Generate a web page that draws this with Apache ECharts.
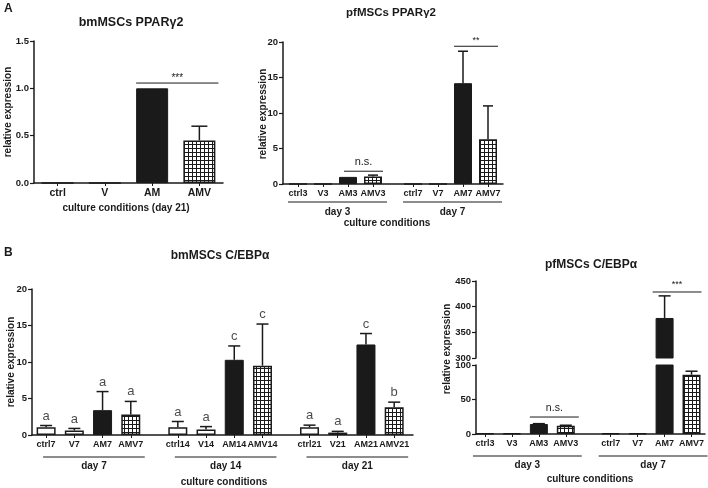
<!DOCTYPE html>
<html><head><meta charset="utf-8">
<script src="https://cdn.jsdelivr.net/npm/echarts@6/dist/echarts.min.js"></script>
<style>html,body{margin:0;padding:0;background:#fff}#c{width:708px;height:488px}</style>
</head><body><div id="c"></div>
<script>
// ---------------- DATA ----------------
// A left: bmMSCs PPARγ2, day 21
const aLeftCats = ['ctrl', 'V', 'AM', 'AMV'];
const aLeftMean = [0, 0, 1.0, 0.45];
const aLeftSD   = [0, 0, 0, 0.15];

// A right: pfMSCs PPARγ2
const aRightGroups = ['day 3', 'day 7'];
const aRightCats = [['ctrl3', 'V3', 'AM3', 'AMV3'], ['ctrl7', 'V7', 'AM7', 'AMV7']];
const aRightMean = [0, 0, 1.0, 1.05, 0, 0, 14.2, 6.3];
const aRightSD   = [0, 0, 0, 0.2, 0, 0, 4.5, 4.7];

// B left: bmMSCs C/EBPα
const bLeftGroups = ['day 7', 'day 14', 'day 21'];
const bLeftCats = [['ctrl7', 'V7', 'AM7', 'AMV7'], ['ctrl14', 'V14', 'AM14', 'AMV14'], ['ctrl21', 'V21', 'AM21', 'AMV21']];
const bLeftMean = [1.05, 0.62, 3.4, 2.8, 1.05, 0.75, 10.3, 9.5, 1.05, 0.33, 12.4, 3.8];
const bLeftSD   = [0.25, 0.28, 2.55, 1.8, 0.8, 0.4, 1.9, 5.7, 0.3, 0.17, 1.5, 0.7];
const bLeftLetters = ['a', 'a', 'a', 'a', 'a', 'a', 'c', 'c', 'a', 'a', 'c', 'b'];

// B right: pfMSCs C/EBPα (broken axis 0-100 / 300-450)
const bRightGroups = ['day 3', 'day 7'];
const bRightCats = [['ctrl3', 'V3', 'AM3', 'AMV3'], ['ctrl7', 'V7', 'AM7', 'AMV7']];
const bRightMean = [1, 1, 14.5, 11.8, 1, 1, 378, 86];
const bRightSD   = [0, 0, 0.5, 0.9, 0, 0, 43, 5];

const aLeftTicks = [0, 1.5, 0.5];
const aRightTicks = [0, 20, 5];
const bLeftTicks = [0, 20, 5];
const bRightTopTicks = [300, 450, 50];
const bRightBottomTicks = [0, 100, 50];

// ---------------- STYLE ----------------
const FONT = "'Liberation Sans', Arial, sans-serif";
const INK = '#1a1a1a';

function hatchCanvas() {
  const c = document.createElement('canvas'); c.width = 4; c.height = 4;
  const g = c.getContext('2d');
  g.fillStyle = '#fff'; g.fillRect(0, 0, 4, 4);
  g.fillStyle = INK; g.fillRect(0, 0, 4, 1); g.fillRect(0, 0, 1, 4);
  return c;
}
const HATCH = { image: hatchCanvas(), repeat: 'repeat' };

function styleFor(name) {
  if (name.startsWith('AMV')) return { color: HATCH, borderColor: INK, borderWidth: 1.5 };
  if (name.startsWith('AM')) return { color: INK, borderColor: INK, borderWidth: 1 };
  return { color: '#fff', borderColor: INK, borderWidth: 1.5 };
}

// category axis with blank slots, so groups can be spaced apart
function slotAxis(groups, lead, step, gap, tail) {
  const data = [], pos = {};
  let k = 0;
  const blank = () => data.push('_' + (k++));
  for (let i = 0; i < lead; i++) blank();
  groups.forEach((g, gi) => {
    g.forEach((name, i) => {
      pos[name] = data.length; data.push(name); k++;
      if (i < g.length - 1) for (let j = 1; j < step; j++) blank();
    });
    if (gi < groups.length - 1) for (let j = 1; j < gap; j++) blank();
  });
  for (let i = 0; i < tail; i++) blank();
  return { data, pos };
}
function plainAxis(names) { const pos = {}; names.forEach((n, i) => pos[n] = i); return { data: names.slice(), pos }; }

const axA1 = plainAxis(aLeftCats);
const axA2 = slotAxis(aRightCats, 3, 5, 8, 3);
const axB1 = slotAxis(bLeftCats, 3, 6, 10, 4);
const axB2 = slotAxis(bRightCats, 2, 6, 10, 3);

function xAxisCfg(grid, ax, boundaryGap, fontSize, show) {
  return {
    type: 'category', gridIndex: grid, data: ax.data, boundaryGap, show: show !== false,
    axisLine: { show: true, lineStyle: { color: INK, width: 1.5 } },
    axisTick: { show: true, length: 3, alignWithLabel: true, interval: (i, v) => !String(v).startsWith('_'), lineStyle: { color: INK, width: 1 } },
    axisLabel: { interval: (i, v) => !String(v).startsWith('_'), formatter: v => String(v).startsWith('_') ? '' : v,
      margin: 5, fontFamily: FONT, fontWeight: 'bold', fontSize, color: INK },
    splitLine: { show: false }
  };
}
function yAxisCfg(grid, t, fmt) {
  return {
    type: 'value', gridIndex: grid, min: t[0], max: t[1], interval: t[2],
    axisLine: { show: true, lineStyle: { color: INK, width: 1.5 } },
    axisTick: { show: true, length: 4, lineStyle: { color: INK, width: 1.2 } },
    axisLabel: { margin: 5, fontFamily: FONT, fontWeight: 'bold', fontSize: 9.5, color: INK, formatter: fmt },
    splitLine: { show: false }
  };
}

const flat = a => [].concat(...a);
function barSeries(grid, names, means, ax, width) {
  return { type: 'bar', xAxisIndex: grid, yAxisIndex: grid, barWidth: width, clip: true, z: 2,
    data: names.map((n, i) => ({ value: [ax.pos[n], means[i]], itemStyle: styleFor(n) })) };
}
function errSeries(grid, names, means, sds, ax, cap, range) {
  return { type: 'custom', xAxisIndex: grid, yAxisIndex: grid, clip: true, z: 3, silent: true,
    data: names.map((n, i) => [ax.pos[n], means[i], means[i] + sds[i], sds[i]]),
    renderItem(params, api) {
      const sd = api.value(3), m = api.value(1), top = api.value(2);
      if (!(sd > 0) || m < range[0] || top > range[1]) return null;
      const p0 = api.coord([api.value(0), m]);
      const p1 = api.coord([api.value(0), top]);
      return { type: 'group', children: [
        { type: 'line', shape: { x1: p0[0], y1: p0[1], x2: p1[0], y2: p1[1] }, style: { stroke: INK, lineWidth: 1.5 } },
        { type: 'line', shape: { x1: p1[0] - cap, y1: p1[1], x2: p1[0] + cap, y2: p1[1] }, style: { stroke: INK, lineWidth: 1.5 } }
      ] };
    } };
}

const aRightNames = flat(aRightCats), bLeftNames = flat(bLeftCats), bRightNames = flat(bRightCats);

const chart = echarts.init(document.getElementById('c'), null, { renderer: 'canvas' });
chart.setOption({
  animation: false,
  backgroundColor: '#fff',
  grid: [
    { left: 34, right: 485, top: 41, bottom: 305 },
    { left: 283, right: 205, top: 42, bottom: 304 },
    { left: 32, right: 295, top: 289, bottom: 53 },
    { left: 476, right: 3, top: 281, bottom: 130 },
    { left: 476, right: 3, top: 365, bottom: 54 }
  ],
  xAxis: [
    xAxisCfg(0, axA1, true, 10.5),
    xAxisCfg(1, axA2, false, 9),
    xAxisCfg(2, axB1, false, 9),
    xAxisCfg(3, axB2, false, 9, false),
    xAxisCfg(4, axB2, false, 9)
  ],
  yAxis: [
    yAxisCfg(0, aLeftTicks, v => v.toFixed(1)),
    yAxisCfg(1, aRightTicks),
    yAxisCfg(2, bLeftTicks),
    yAxisCfg(3, bRightTopTicks),
    yAxisCfg(4, bRightBottomTicks)
  ],
  series: [
    barSeries(0, aLeftCats, aLeftMean, axA1, 32),
    errSeries(0, aLeftCats, aLeftMean, aLeftSD, axA1, 8, [0, 1.5]),
    barSeries(1, aRightNames, aRightMean, axA2, 18),
    errSeries(1, aRightNames, aRightMean, aRightSD, axA2, 5, [0, 20]),
    barSeries(2, bLeftNames, bLeftMean, axB1, 19),
    errSeries(2, bLeftNames, bLeftMean, bLeftSD, axB1, 6, [0, 20]),
    { type: 'scatter', xAxisIndex: 2, yAxisIndex: 2, symbol: 'circle', symbolSize: 0, silent: true, z: 4,
      data: bLeftNames.map((n, i) => [axB1.pos[n], bLeftMean[i] + bLeftSD[i]]),
      label: { show: true, position: 'top', distance: 3, formatter: p => bLeftLetters[p.dataIndex],
        fontFamily: FONT, fontSize: 13, color: INK } },
    barSeries(3, bRightNames, bRightMean, axB2, 18),
    errSeries(3, bRightNames, bRightMean, bRightSD, axB2, 6, [300, 450]),
    barSeries(4, bRightNames, bRightMean, axB2, 18),
    errSeries(4, bRightNames, bRightMean, bRightSD, axB2, 6, [0, 100])
  ]
});

// ---------------- ANNOTATIONS ----------------
const px = (g, x, y) => chart.convertToPixel({ gridIndex: g }, [x, y]);
const G = [];
function txt(text, x, y, size, weight, align, rot) {
  G.push({ type: 'text', x, y, rotation: rot || 0, silent: true, z: 10,
    style: { text, fill: INK, font: (weight || 'normal') + ' ' + size + 'px ' + FONT, align: align || 'center', verticalAlign: 'middle' } });
}
function hline(x1, x2, y, w) {
  G.push({ type: 'line', silent: true, z: 10, shape: { x1, y1: y, x2, y2: y }, style: { stroke: INK, lineWidth: w || 1 } });
}
function sig(g, a, b, value, dl, dr, label, size, dy) {
  const p1 = px(g, a, value), p2 = px(g, b, value);
  hline(p1[0] + dl, p2[0] + dr, p1[1], 1);
  txt(label, (p1[0] + dl + p2[0] + dr) / 2, p1[1] + dy, size, 'normal');
}
function groups(g, ax, cats, labels, dl, dr, dyLine, dyText) {
  cats.forEach((grp, i) => {
    const a = px(g, ax.pos[grp[0]], 0), b = px(g, ax.pos[grp[grp.length - 1]], 0);
    hline(a[0] + dl, b[0] + dr, a[1] + dyLine, 1);
    txt(labels[i], (a[0] + dl + b[0] + dr) / 2, a[1] + dyText, 10, 'bold');
  });
}

// panel letters and titles
txt('A', 4, 9, 12, 'bold', 'left');
txt('B', 4, 253, 12, 'bold', 'left');
txt('bmMSCs PPARγ2', 131, 23, 12.5, 'bold');
txt('pfMSCs PPARγ2', 391, 13, 11.5, 'bold');
txt('bmMSCs C/EBPα', 220, 256, 12, 'bold');
txt('pfMSCs C/EBPα', 591, 265, 12, 'bold');

// y-axis titles
txt('relative expression', 8, 112, 10, 'bold', 'center', Math.PI / 2);
txt('relative expression', 263, 114, 10, 'bold', 'center', Math.PI / 2);
txt('relative expression', 11, 362, 10, 'bold', 'center', Math.PI / 2);
txt('relative expression', 447, 349, 10, 'bold', 'center', Math.PI / 2);

// x-axis titles
txt('culture conditions (day 21)', 126, 208, 10, 'bold');
txt('culture conditions', 387, 223, 10, 'bold');
txt('culture conditions', 224, 482, 10, 'bold');
txt('culture conditions', 590, 479, 10, 'bold');

// significance
sig(0, axA1.pos['AM'], axA1.pos['AMV'], 1.056, -16, 19, '***', 10, -5);
sig(1, axA2.pos['AM7'], axA2.pos['AMV7'], 19.4, -9, 10, '**', 9, -6);
sig(1, axA2.pos['AM3'], axA2.pos['AMV3'], 1.8, -4, 10, 'n.s.', 11, -9);
sig(3, axB2.pos['AM7'], axB2.pos['AMV7'], 428.6, -12, 10, '***', 9, -7);
sig(4, axB2.pos['AM3'], axB2.pos['AMV3'], 24.6, -9, 13, 'n.s.', 10.5, -9);

// group underlines
groups(1, axA2, aRightCats, aRightGroups, -10, 14, 18, 28);
groups(2, axB1, bLeftCats, bLeftGroups, -3, 14, 22, 31);
groups(4, axB2, bRightCats, bRightGroups, -12, 16, 22, 31);

chart.setOption({ graphic: G });
</script></body></html>
